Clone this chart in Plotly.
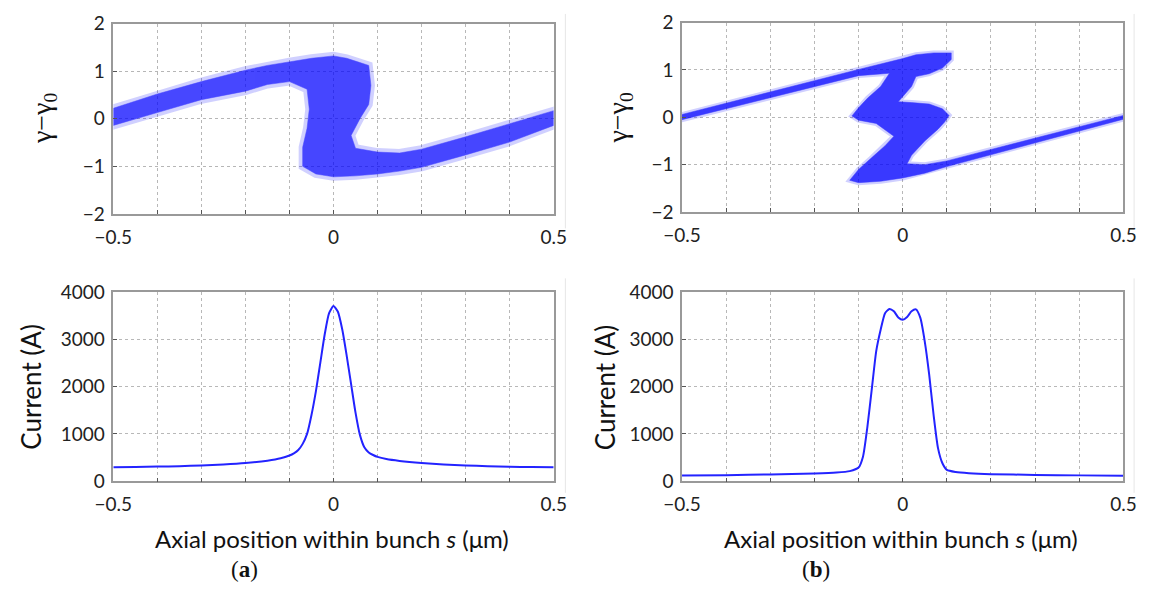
import plotly.graph_objects as go

# ---------------- data ----------------
# current profile, panel (a)
s_cur_a = [-0.5, -0.45, -0.4, -0.35, -0.3, -0.25, -0.2, -0.15, -0.12, -0.1, -0.09, -0.08, -0.07,
           -0.06, -0.05, -0.04, -0.03, -0.02, -0.01, 0.0, 0.01, 0.02, 0.03, 0.04, 0.05, 0.06,
           0.07, 0.08, 0.09, 0.1, 0.12, 0.15, 0.2, 0.25, 0.3, 0.35, 0.4, 0.45, 0.5]
I_cur_a = [295, 300, 310, 320, 335, 355, 385, 435, 485, 545, 590, 660, 790,
           1000, 1400, 1900, 2500, 3100, 3550, 3700, 3580, 3200, 2650, 2050, 1450, 980,
           720, 610, 555, 515, 470, 430, 385, 355, 335, 320, 305, 300, 295]

# current profile, panel (b)
s_cur_b = [-0.5, -0.4, -0.3, -0.2, -0.15, -0.12, -0.1, -0.09, -0.08, -0.07, -0.06, -0.05,
           -0.04, -0.03, -0.02, -0.01, 0.0, 0.01, 0.02, 0.03, 0.04, 0.05, 0.06, 0.07, 0.08,
           0.09, 0.1, 0.12, 0.15, 0.2, 0.3, 0.4, 0.5]
I_cur_b = [120, 130, 145, 165, 185, 215, 290, 520, 1150, 1950, 2750, 3200,
           3550, 3640, 3590, 3460, 3410, 3470, 3590, 3630, 3450, 2950, 2250, 1400, 700,
           380, 240, 195, 170, 150, 135, 125, 115]

# outline of the particle cloud in phase space, panel (a)
ps_a_s = [-0.5, -0.4, -0.3, -0.2, -0.15, -0.1, -0.05, 0.0, 0.03, 0.06, 0.08,
          0.085, 0.08, 0.06, 0.04, 0.05,
          0.1, 0.15, 0.2, 0.3, 0.4, 0.5,
          0.5, 0.4, 0.3, 0.2, 0.15, 0.1, 0.05, 0.0, -0.04,
          -0.07, -0.07, -0.06, -0.055, -0.06,
          -0.1, -0.15, -0.2, -0.3, -0.4, -0.5]
ps_a_g = [0.22, 0.52, 0.78, 1.02, 1.12, 1.2, 1.27, 1.32, 1.27, 1.18, 1.12,
          0.7, 0.3, 0.0, -0.35, -0.62,
          -0.7, -0.72, -0.64, -0.38, -0.1, 0.17,
          -0.14, -0.49, -0.76, -1.02, -1.1, -1.16, -1.2, -1.22, -1.16,
          -1.0, -0.6, -0.2, 0.2, 0.62,
          0.78, 0.72, 0.58, 0.4, 0.13, -0.14]

# outline of the particle cloud in phase space, panel (b)
ps_b_s = [-0.5, -0.3, -0.1, 0.0, 0.03, 0.07, 0.11,
          0.11, 0.09, 0.06, 0.03, 0.02, 0.0, -0.01,
          0.02, 0.06, 0.09, 0.105, 0.095,
          0.08, 0.05, 0.02, 0.01,
          0.05, 0.1, 0.2, 0.3, 0.4, 0.5,
          0.5, 0.4, 0.3, 0.2, 0.1, 0.05, 0.0,
          -0.05, -0.1, -0.12,
          -0.1, -0.07, -0.04, -0.02,
          -0.06, -0.1, -0.115, -0.1, -0.08,
          -0.05, -0.03,
          -0.1, -0.3, -0.5]
ps_b_g = [0.06, 0.54, 1.01, 1.24, 1.32, 1.36, 1.36,
          1.22, 1.04, 0.92, 0.86, 0.65, 0.45, 0.33,
          0.31, 0.28, 0.18, 0.04, -0.1,
          -0.25, -0.5, -0.8, -0.98,
          -1.0, -0.92, -0.68, -0.44, -0.2, 0.04,
          -0.04, -0.29, -0.53, -0.78, -1.04, -1.18, -1.28,
          -1.35, -1.38, -1.33,
          -1.1, -0.85, -0.6, -0.4,
          -0.13, -0.06, 0.03, 0.2, 0.4,
          0.65, 0.93,
          0.88, 0.42, -0.05]

x_label_ticks = [-0.5, 0.0, 0.5]
x_grid_step = 0.1
gamma_ticks = [-2, -1, 0, 1, 2]
current_ticks = [0, 1000, 2000, 3000, 4000]

# ---------------- layout helpers ----------------
W, H = 1150, 600


def dx(a, b):
    return [a / W, b / W]


def dy(top, bottom):
    return [1 - bottom / H, 1 - top / H]


BLUE = "rgb(0,0,255)"
LINE_BLUE = "rgb(35,35,255)"
TICK_FONT = dict(family="Lato", size=19, color="#222")

fig = go.Figure()


def add_cloud(xs, ys, xa, ya, halo_w, core_op):
    cx = list(xs) + [xs[0]]
    cy = list(ys) + [ys[0]]
    fig.add_trace(go.Scatter(x=cx, y=cy, mode="lines", fill="toself", fillcolor=BLUE,
                             line=dict(color=BLUE, width=halo_w), opacity=0.18,
                             xaxis=xa, yaxis=ya, hoverinfo="skip", showlegend=False))
    fig.add_trace(go.Scatter(x=cx, y=cy, mode="lines", fill="toself", fillcolor=BLUE,
                             line=dict(color=BLUE, width=0.5), opacity=core_op,
                             xaxis=xa, yaxis=ya, hoverinfo="skip", showlegend=False))


add_cloud(ps_a_s, ps_a_g, "x", "y", 8, 0.66)
add_cloud(ps_b_s, ps_b_g, "x2", "y2", 5, 0.72)

fig.add_trace(go.Scatter(x=s_cur_a, y=I_cur_a, mode="lines",
                         line=dict(color=LINE_BLUE, width=2, shape="spline", smoothing=0.6),
                         xaxis="x3", yaxis="y3", showlegend=False))
fig.add_trace(go.Scatter(x=s_cur_b, y=I_cur_b, mode="lines",
                         line=dict(color=LINE_BLUE, width=2, shape="spline", smoothing=0.6),
                         xaxis="x4", yaxis="y4", showlegend=False))

GRID = dict(showgrid=True, gridcolor="#b8b8b8", griddash="dot", gridwidth=1)


def xaxis_def(domain, anchor):
    return dict(domain=domain, anchor=anchor, range=[-0.5, 0.5], tickmode="array",
                tickvals=x_label_ticks, ticks="inside", ticklen=4, tickcolor="#555",
                minor=dict(tick0=-0.5, dtick=x_grid_step, ticks="inside", ticklen=4,
                           tickcolor="#555", **GRID),
                **GRID, showline=True, linecolor="#999", linewidth=1.5, mirror=True,
                zeroline=False, tickfont=TICK_FONT, ticklabelstandoff=5, fixedrange=True)


def yaxis_def(domain, anchor, rng, ticks):
    return dict(domain=domain, anchor=anchor, range=rng, tickmode="array", tickvals=ticks,
                ticks="inside", ticklen=4, tickcolor="#555", **GRID, showline=True,
                linecolor="#999", linewidth=1.5, mirror=True, zeroline=False,
                tickfont=TICK_FONT, ticklabelstandoff=3, fixedrange=True)


LX = dx(97, 550)
RX = dx(682, 1136)
TY_L = dy(12, 210)
TY_R = dy(11, 208)
BY = dy(291, 488)

fig.update_layout(
    width=W, height=H, margin=dict(l=0, r=0, t=0, b=0),
    paper_bgcolor="white", plot_bgcolor="white", showlegend=False,
    xaxis=xaxis_def(LX, "y"), yaxis=yaxis_def(TY_L, "x", [-2, 2], gamma_ticks),
    xaxis2=xaxis_def(RX, "y2"), yaxis2=yaxis_def(TY_R, "x2", [-2, 2], gamma_ticks),
    xaxis3=xaxis_def(LX, "y3"), yaxis3=yaxis_def(BY, "x3", [0, 4000], current_ticks),
    xaxis4=xaxis_def(RX, "y4"), yaxis4=yaxis_def(BY, "x4", [0, 4000], current_ticks),
)


def ann(text, px, py, size, family, angle=0):
    fig.add_annotation(text=text, x=px / W, y=1 - py / H, xref="paper", yref="paper",
                       xanchor="center", yanchor="middle", showarrow=False, textangle=angle,
                       font=dict(family=family, size=size, color="#111"))


GAMMA = "γ−γ<sub>0</sub>"
ann(GAMMA, 26, 110, 28, "Liberation Serif", -90)
ann(GAMMA, 618, 110, 28, "Liberation Serif", -90)
ann("Current (A)", 12, 390, 26, "Lato", -90)
ann("Current (A)", 603, 390, 26, "Lato", -90)
XT = "Axial position within bunch <i>s</i> (μm)"
ann(XT, 322, 548, 24, "Lato")
ann(XT, 907, 548, 24, "Lato")
ann("(<b>a</b>)", 232, 580, 23, "Liberation Serif")
ann("(<b>b</b>)", 820, 580, 23, "Liberation Serif")

# faint panel separators from the original figure crop
for x0, y0, y1 in [(562, 2, 225), (562, 277, 500), (1147, 2, 225), (1147, 277, 500)]:
    fig.add_shape(type="line", xref="paper", yref="paper", x0=x0 / W, x1=x0 / W,
                  y0=1 - y1 / H, y1=1 - y0 / H, layer="below",
                  line=dict(color="#e6e6e6", width=1))

fig.write_html("out.html")
